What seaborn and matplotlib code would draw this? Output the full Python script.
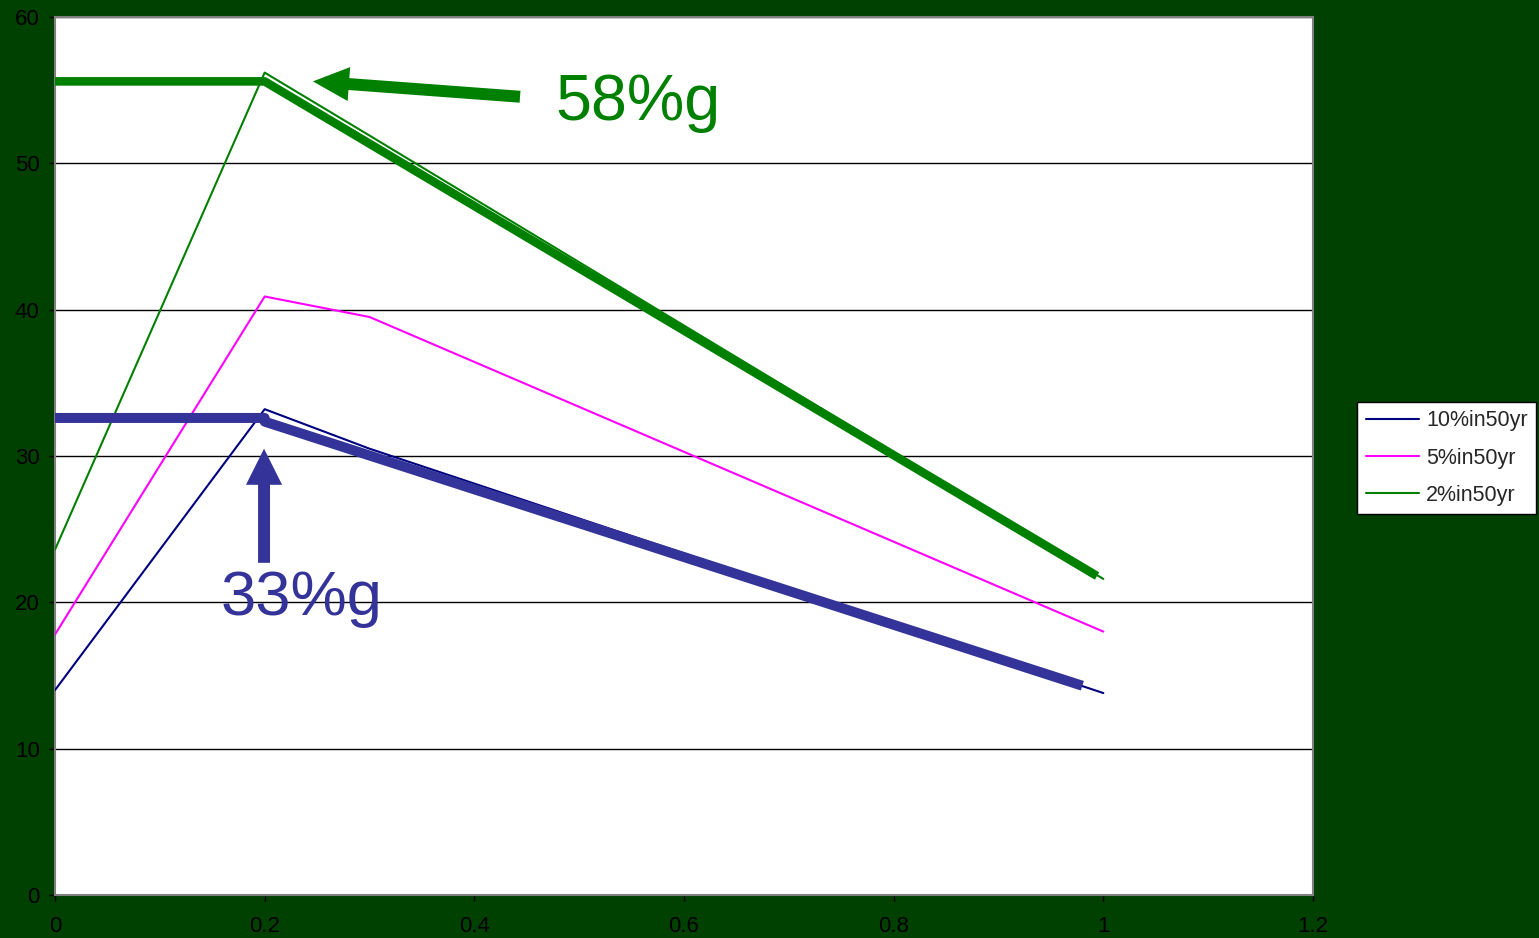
import matplotlib
matplotlib.use("Agg")
import matplotlib.pyplot as plt
import seaborn as sns
import pandas as pd

# Spectral acceleration (%g) versus period (s) for three hazard levels
period = [0.0, 0.2, 0.3, 1.0]
sa_10in50 = [14.0, 33.2, 30.5, 13.8]
sa_5in50 = [17.8, 40.9, 39.5, 18.0]
sa_2in50 = [23.6, 56.2, 51.9, 21.6]
series_names = ["10%in50yr", "5%in50yr", "2%in50yr"]
series_colors = ["#000080", "#FF00FF", "#008000"]

# Simplified design envelopes drawn over the spectra
env58_x = [0.0, 0.2, 0.994]
env58_y = [55.6, 55.6, 21.8]
env33_x = [0.0, 0.2, 0.2, 0.98]
env33_y = [32.6, 32.6, 32.35, 14.3]
env58_label = "58%g"
env33_label = "33%g"

x_ticks = [0.0, 0.2, 0.4, 0.6, 0.8, 1.0, 1.2]
x_tick_labels = ["0", "0.2", "0.4", "0.6", "0.8", "1", "1.2"]
y_ticks = [0, 10, 20, 30, 40, 50, 60]
y_tick_labels = ["0", "10", "20", "30", "40", "50", "60"]

sns.set_style("white")
plt.rcParams["font.family"] = ["Liberation Sans", "DejaVu Sans"]

BG = "#004000"
GREEN = "#008000"
BLUE = "#333399"

rows = []
for name, vals in zip(series_names, [sa_10in50, sa_5in50, sa_2in50]):
    for p, v in zip(period, vals):
        rows.append({"period": p, "sa": v, "series": name})
df = pd.DataFrame(rows)

fig = plt.figure(figsize=(15.39, 9.38), dpi=100, facecolor=BG)
ax = fig.add_axes([55 / 1539, 1 - 895 / 938, (1313 - 55) / 1539, (895 - 17) / 938])
ax.set_facecolor("white")

sns.lineplot(data=df, x="period", y="sa", hue="series", hue_order=series_names,
             palette=dict(zip(series_names, series_colors)), estimator=None,
             sort=False, linewidth=1.5, ax=ax, zorder=3)
handles, labels = ax.get_legend_handles_labels()
if ax.get_legend() is not None:
    ax.get_legend().remove()

env58 = pd.DataFrame({"period": env58_x, "sa": env58_y})
env33 = pd.DataFrame({"period": env33_x, "sa": env33_y})
sns.lineplot(data=env58, x="period", y="sa", sort=False, estimator=None,
             color=GREEN, linewidth=6.2, ax=ax, legend=False, zorder=4,
             solid_capstyle="butt")
sns.lineplot(data=env33, x="period", y="sa", sort=False, estimator=None,
             color=BLUE, linewidth=7.2, ax=ax, legend=False, zorder=4,
             solid_capstyle="butt")

# Arrows pointing at the envelope plateaus
ax.annotate("", xy=(0.246, 55.6), xytext=(0.4436, 54.55),
            arrowprops=dict(arrowstyle="simple,head_length=26,head_width=24.5,tail_width=8.6",
                            mutation_scale=1, color=GREEN, lw=0, shrinkA=0, shrinkB=0),
            zorder=5)
ax.annotate("", xy=(0.1994, 30.5), xytext=(0.1994, 22.7),
            arrowprops=dict(arrowstyle="simple,head_length=26,head_width=26,tail_width=8.6",
                            mutation_scale=1, color=BLUE, lw=0, shrinkA=0, shrinkB=0),
            zorder=5)
ax.text(0.477, 52.96, env58_label, color=GREEN, fontsize=46.5, ha="left", va="baseline", zorder=6)
ax.text(0.158, 19.13, env33_label, color=BLUE, fontsize=45.5, ha="left", va="baseline", zorder=6)

ax.set_xlim(0, 1.2)
ax.set_ylim(0, 60)
ax.set_xticks(x_ticks)
ax.set_xticklabels(x_tick_labels)
ax.set_yticks(y_ticks)
ax.set_yticklabels(y_tick_labels)
ax.set_xlabel("")
ax.set_ylabel("")
ax.yaxis.grid(True, color="black", linewidth=1.0)
ax.xaxis.grid(False)
ax.set_axisbelow(True)
for s in ax.spines.values():
    s.set_color("#808080")
    s.set_linewidth(1.5)
ax.tick_params(axis="both", direction="out", length=4, width=1, color="black",
               labelcolor="black", labelsize=16, pad=7, left=True, bottom=True)
ax.tick_params(axis="x", pad=11)

leg = ax.legend(handles, labels, loc="center left", bbox_to_anchor=(1357 / 1539, 1 - 458 / 938),
                bbox_transform=fig.transFigure, borderaxespad=0, frameon=True,
                fancybox=False, framealpha=1, edgecolor="black", fontsize=15.5,
                handlelength=2.5, handletextpad=0.3, borderpad=0.4, labelspacing=0.75)
leg.get_frame().set_linewidth(1.0)
for line in leg.get_lines():
    line.set_linewidth(1.5)

fig.savefig("out.png", dpi=100, facecolor=BG)
